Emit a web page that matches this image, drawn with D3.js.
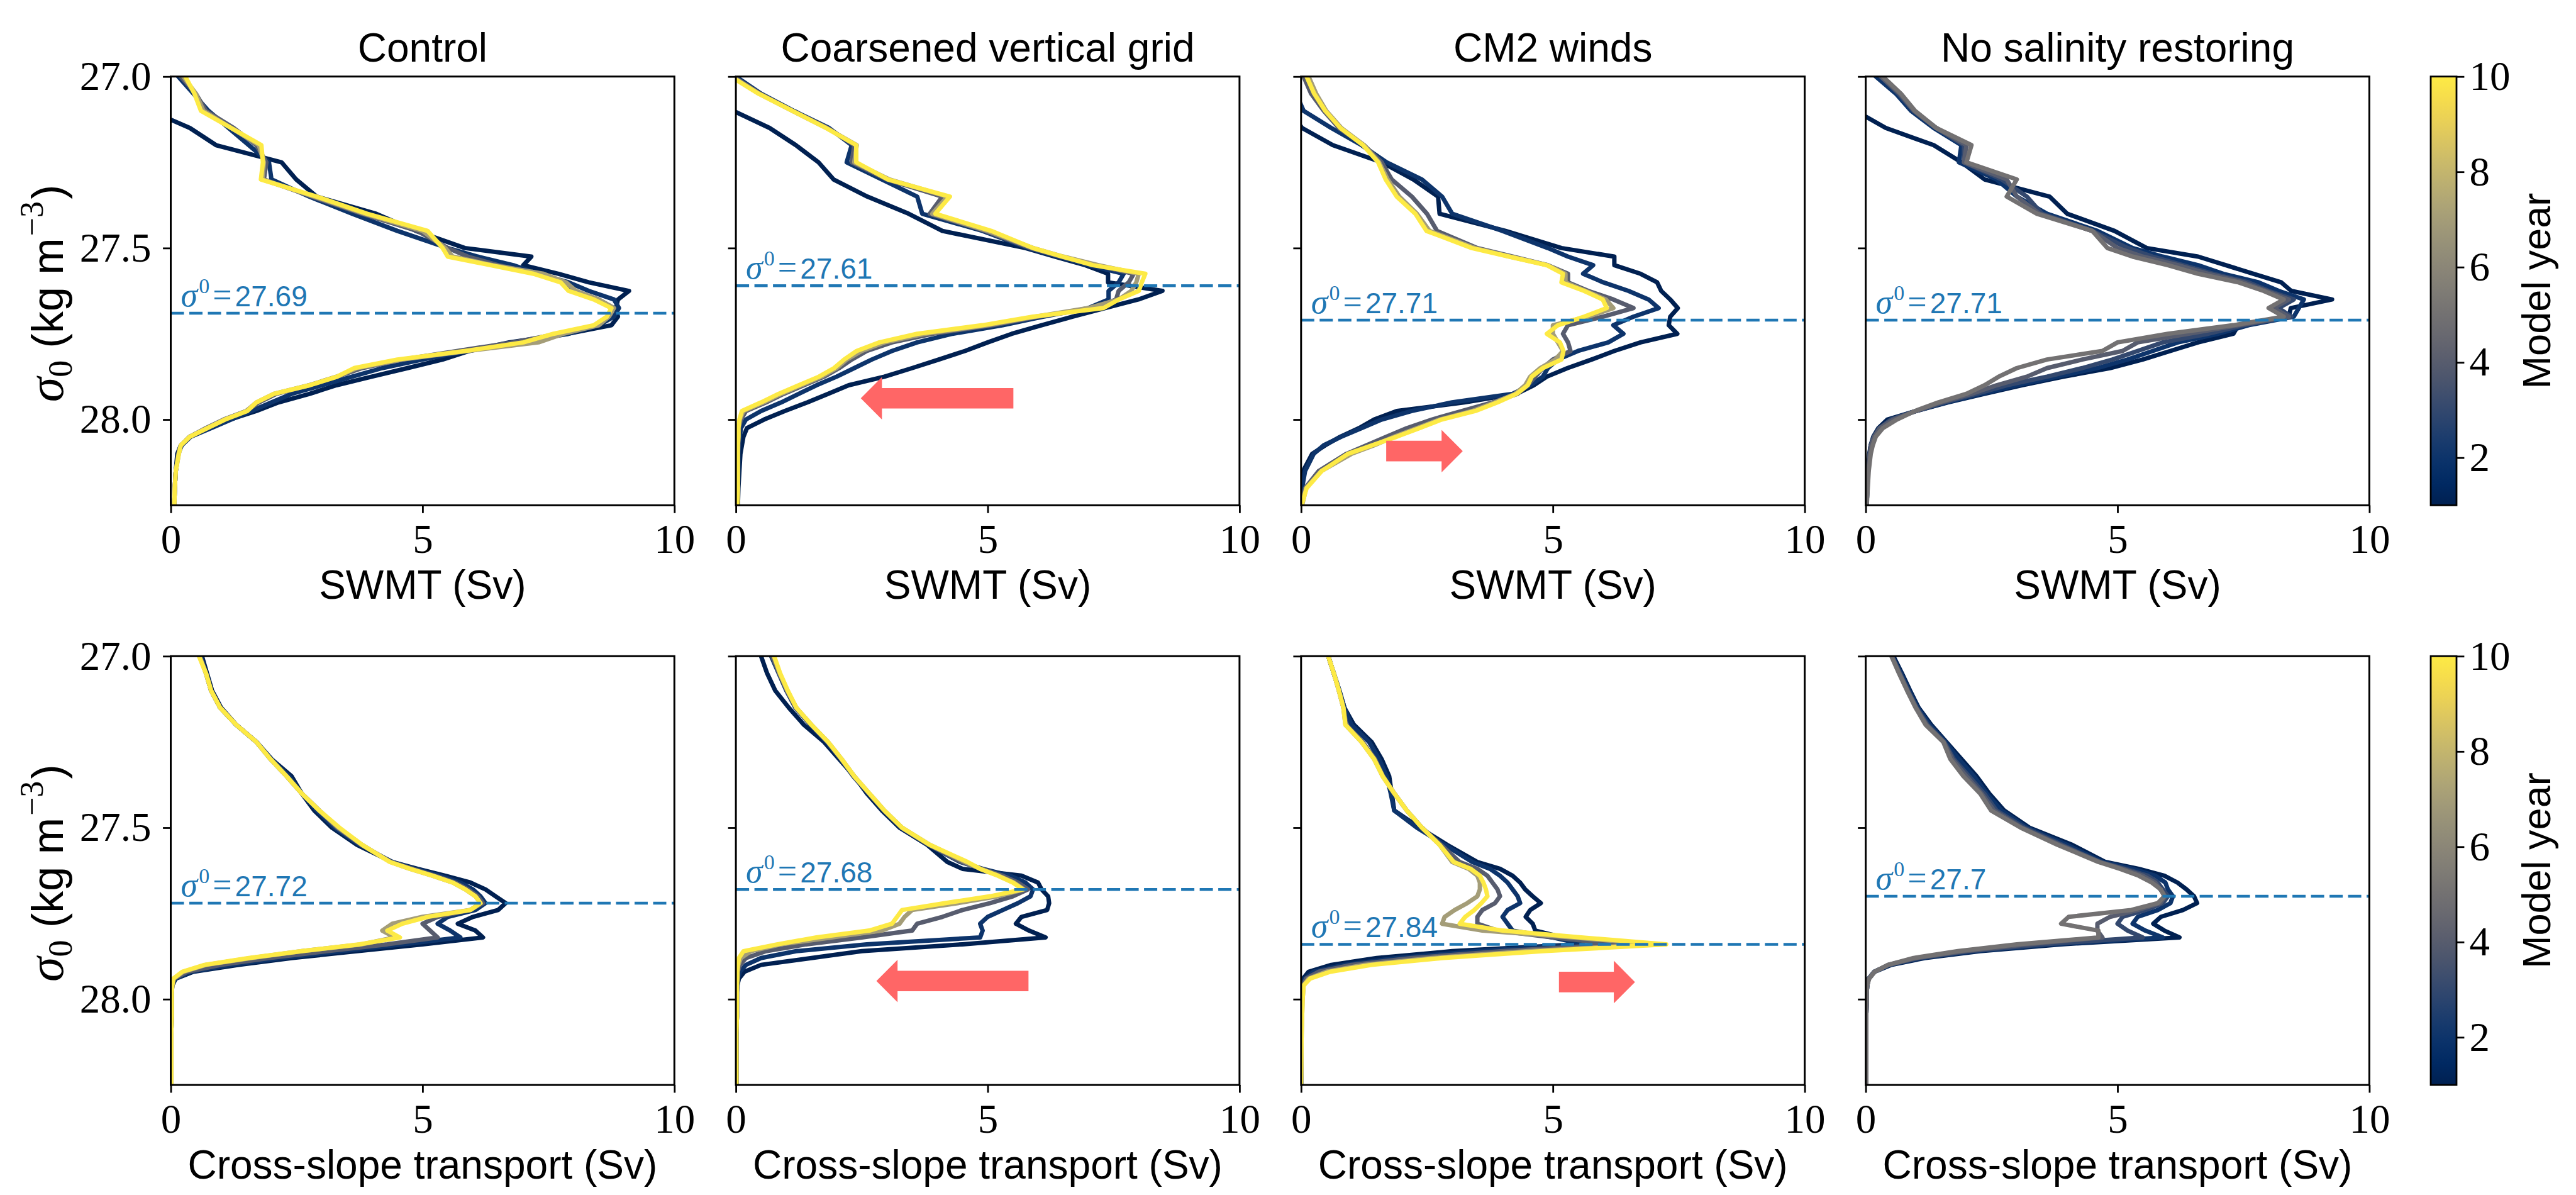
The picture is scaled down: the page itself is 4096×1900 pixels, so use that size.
<!DOCTYPE html>
<html>
<head>
<meta charset="utf-8">
<script src="https://cdn.jsdelivr.net/npm/d3@7"></script>
<style>
  body { margin: 0; background: #fff; }
</style>
</head>
<body>
<script>
// ---------- data ----------
var panelTitles = ["Control", "Coarsened vertical grid", "CM2 winds", "No salinity restoring"];
var rowLabels = ["SWMT (Sv)", "Cross-slope transport (Sv)"];

var sigmaTop = [27.0, 27.05, 27.1, 27.15, 27.2, 27.25, 27.3, 27.35, 27.4, 27.45, 27.5, 27.525, 27.55, 27.575, 27.6, 27.625, 27.65, 27.675, 27.7, 27.725, 27.75, 27.775, 27.8, 27.825, 27.85, 27.875, 27.9, 27.925, 27.95, 27.975, 28.0, 28.025, 28.05, 28.075, 28.1, 28.15, 28.2, 28.25];
var sigmaBot = [27.0, 27.05, 27.1, 27.15, 27.2, 27.25, 27.3, 27.35, 27.4, 27.45, 27.5, 27.55, 27.6, 27.62, 27.64, 27.66, 27.68, 27.7, 27.72, 27.74, 27.76, 27.78, 27.8, 27.82, 27.84, 27.86, 27.88, 27.9, 27.92, 27.94, 27.96, 27.98, 28.0, 28.05, 28.1, 28.25];

var yearsMain = [1, 2, 4, 7, 10];
var yearsNoSal = [1, 2, 3, 4, 5];

// SWMT, one array per model year (same order as the years arrays)
var swmtControl = [
  [-1.5, -1.0, -0.4, 0.38, 0.9, 2.2, 2.49, 2.9, 4.08, 4.87, 5.84, 7.16, 7.0, 7.7, 8.3, 9.1, 8.88, 8.84, 8.88, 8.75, 7.87, 6.72, 5.93, 5.4, 4.7, 3.99, 3.29, 2.76, 2.14, 1.7, 1.17, 0.73, 0.38, 0.2, 0.13, 0.1, 0.08, 0.07],
  [0.15, 0.45, 0.75, 1.15, 1.55, 1.95, 2.0, 2.75, 3.6, 4.5, 5.5, 6.1, 6.8, 7.3, 7.9, 8.3, 8.8, 8.9, 8.8, 8.5, 7.9, 6.9, 5.9, 5.0, 4.2, 3.6, 3.0, 2.4, 2.0, 1.6, 1.2, 0.8, 0.4, 0.22, 0.15, 0.1, 0.08, 0.07],
  [0.2, 0.5, 0.7, 1.25, 1.7, 1.9, 1.85, 2.8, 3.8, 4.9, 5.5, 5.9, 6.5, 7.3, 7.8, 8.0, 8.5, 8.8, 8.7, 8.45, 7.7, 6.8, 5.7, 4.6, 3.8, 3.3, 2.75, 2.1, 1.75, 1.5, 1.05, 0.7, 0.38, 0.2, 0.15, 0.1, 0.08, 0.07],
  [0.25, 0.5, 0.65, 1.2, 1.75, 1.85, 1.82, 2.85, 3.85, 5.0, 5.45, 5.6, 6.4, 7.4, 7.85, 8.05, 8.5, 8.8, 8.7, 8.5, 7.8, 7.3, 5.9, 4.6, 3.7, 3.3, 2.75, 2.05, 1.7, 1.5, 1.06, 0.72, 0.38, 0.2, 0.16, 0.1, 0.08, 0.07],
  [0.29, 0.47, 0.6, 1.2, 1.8, 1.83, 1.79, 2.9, 3.9, 5.1, 5.4, 5.5, 6.35, 7.2, 7.74, 7.9, 8.4, 8.75, 8.66, 8.4, 7.6, 7.0, 5.85, 4.5, 3.64, 3.3, 2.76, 2.05, 1.7, 1.52, 1.08, 0.73, 0.38, 0.2, 0.16, 0.1, 0.08, 0.07]
];
var swmtCoarse = [
  [-1.0, -0.5, -0.05, 0.67, 1.19, 1.64, 1.94, 2.61, 3.43, 4.1, 5.75, 6.34, 6.94, 7.39, 7.39, 8.47, 7.99, 7.33, 6.69, 6.07, 5.48, 5.0, 4.55, 4.03, 3.5, 2.95, 2.24, 1.83, 1.42, 0.97, 0.56, 0.22, 0.15, 0.12, 0.09, 0.07, 0.05, 0.04],
  [0.0, 0.5, 1.15, 1.85, 2.3, 2.2, 2.9, 3.6, 3.7, 4.9, 5.8, 6.4, 7.0, 7.7, 7.6, 7.4, 7.4, 7.0, 6.1, 5.3, 4.3, 3.6, 3.1, 2.7, 2.35, 2.0, 1.6, 1.25, 0.9, 0.5, 0.2, 0.1, 0.08, 0.06, 0.05, 0.05, 0.04, 0.04],
  [-0.05, 0.48, 1.13, 1.82, 2.35, 2.3, 3.0, 4.1, 3.85, 4.95, 5.85, 6.45, 7.15, 7.9, 7.8, 7.6, 7.55, 7.1, 6.0, 5.1, 3.9, 3.1, 2.6, 2.3, 2.05, 1.75, 1.35, 0.95, 0.6, 0.2, 0.1, 0.06, 0.05, 0.05, 0.04, 0.04, 0.04, 0.03],
  [-0.08, 0.46, 1.12, 1.8, 2.4, 2.35, 3.05, 4.2, 3.9, 5.0, 5.9, 6.5, 7.2, 8.0, 7.95, 7.85, 7.6, 7.0, 5.95, 5.0, 3.75, 2.95, 2.5, 2.2, 2.0, 1.7, 1.3, 0.9, 0.55, 0.15, 0.08, 0.05, 0.05, 0.04, 0.04, 0.04, 0.04, 0.03],
  [-0.1, 0.45, 1.12, 1.79, 2.39, 2.39, 3.02, 4.25, 3.96, 5.07, 5.9, 6.49, 7.09, 8.13, 8.06, 8.0, 7.6, 7.3, 5.9, 4.9, 3.6, 2.85, 2.4, 2.15, 1.95, 1.65, 1.25, 0.85, 0.5, 0.12, 0.07, 0.05, 0.05, 0.04, 0.04, 0.04, 0.04, 0.03]
];
var swmtCM2 = [
  [-0.8, -0.5, -0.25, 0.02, 0.63, 1.6, 2.23, 2.72, 2.75, 4.06, 5.17, 6.22, 6.22, 6.74, 7.07, 7.15, 7.33, 7.48, 7.33, 7.3, 7.47, 6.74, 6.22, 5.77, 5.29, 4.88, 4.62, 4.28, 3.24, 1.9, 1.45, 1.15, 0.78, 0.48, 0.22, 0.04, 0.01, 0.0],
  [-0.3, -0.1, 0.05, 0.6, 1.2, 1.7, 2.4, 2.8, 3.0, 4.0, 4.9, 5.3, 5.8, 5.6, 6.0, 6.5, 6.9, 7.1, 6.6, 6.2, 6.4, 6.1, 5.5, 5.1, 4.9, 4.8, 4.55, 4.2, 3.0, 2.2, 1.6, 1.2, 0.8, 0.45, 0.25, 0.08, 0.02, 0.0],
  [0.05, 0.2, 0.45, 0.75, 1.25, 1.6, 1.8, 2.2, 2.5, 2.7, 3.5, 4.2, 4.9, 5.3, 5.3, 5.7, 6.2, 6.6, 6.0, 5.3, 5.2, 5.3, 5.35, 5.0, 4.8, 4.65, 4.5, 4.3, 3.8, 3.2, 2.6, 2.1, 1.7, 1.3, 0.9, 0.35, 0.08, 0.01],
  [0.15, 0.3, 0.5, 0.8, 1.25, 1.55, 1.72, 1.95, 2.3, 2.55, 3.45, 4.15, 4.9, 5.25, 5.25, 5.65, 6.05, 6.2, 5.7, 5.0, 5.0, 5.1, 5.2, 5.05, 4.75, 4.55, 4.45, 4.25, 3.85, 3.4, 2.75, 2.3, 1.85, 1.45, 1.0, 0.4, 0.1, 0.02],
  [0.11, 0.26, 0.48, 0.78, 1.23, 1.53, 1.68, 1.9, 2.27, 2.49, 3.39, 4.13, 4.88, 5.2, 5.17, 5.62, 5.99, 6.07, 5.62, 5.1, 4.88, 5.14, 5.21, 5.17, 4.8, 4.58, 4.5, 4.28, 3.9, 3.46, 2.79, 2.35, 1.9, 1.41, 0.93, 0.41, 0.11, 0.01]
];
var swmtNoSal = [
  [-0.8, -0.5, -0.2, 0.4, 1.35, 1.9, 2.36, 3.65, 4.0, 4.94, 5.58, 6.6, 7.15, 7.7, 8.25, 8.45, 9.26, 8.44, 8.4, 7.4, 7.3, 6.6, 6.05, 5.5, 4.85, 3.93, 3.1, 2.36, 1.63, 1.0, 0.43, 0.25, 0.15, 0.1, 0.07, 0.05, 0.03, 0.02],
  [0.2, 0.6, 0.9, 1.35, 1.9, 1.85, 2.6, 3.0, 3.6, 4.6, 5.3, 5.9, 6.6, 7.1, 7.8, 8.2, 8.7, 8.6, 8.5, 7.6, 7.0, 6.2, 5.7, 5.2, 4.6, 3.8, 3.0, 2.3, 1.6, 1.0, 0.5, 0.28, 0.16, 0.1, 0.08, 0.05, 0.03, 0.02],
  [0.3, 0.65, 0.95, 1.4, 1.95, 1.95, 2.7, 3.2, 3.5, 4.5, 5.2, 5.7, 6.3, 6.9, 7.6, 8.0, 8.5, 8.2, 8.45, 7.5, 6.8, 5.9, 5.4, 4.9, 4.3, 3.6, 2.8, 2.2, 1.55, 1.0, 0.5, 0.27, 0.16, 0.1, 0.08, 0.05, 0.03, 0.02],
  [0.3, 0.68, 0.96, 1.4, 2.0, 1.95, 2.8, 3.0, 3.45, 4.5, 5.0, 5.5, 6.2, 6.8, 7.5, 7.95, 8.4, 8.1, 8.4, 7.4, 6.4, 5.4, 5.1, 4.3, 3.6, 3.2, 2.6, 2.1, 1.5, 1.0, 0.55, 0.28, 0.17, 0.11, 0.08, 0.05, 0.03, 0.02],
  [0.34, 0.7, 0.98, 1.4, 2.1, 2.0, 3.0, 2.8, 3.4, 4.5, 4.8, 5.3, 6.0, 6.6, 7.4, 7.9, 8.3, 8.0, 8.3, 7.3, 6.0, 5.0, 4.7, 3.6, 3.0, 2.64, 2.36, 2.0, 1.44, 0.98, 0.62, 0.34, 0.2, 0.14, 0.1, 0.06, 0.04, 0.02]
];

// cross-slope transport
var xsControl = [
  [0.62, 0.72, 0.82, 1.0, 1.3, 1.7, 2.0, 2.4, 2.6, 2.85, 3.2, 3.7, 4.4, 4.9, 5.45, 5.95, 6.25, 6.45, 6.65, 6.5, 6.0, 5.7, 6.05, 6.2, 5.0, 3.7, 2.4, 1.35, 0.45, 0.1, 0.03, 0.02, 0.02, 0.02, 0.01, 0.01],
  [0.6, 0.7, 0.8, 0.98, 1.3, 1.7, 2.0, 2.35, 2.6, 2.9, 3.25, 3.75, 4.4, 4.85, 5.35, 5.75, 6.0, 6.15, 6.25, 6.05, 5.5, 5.3, 5.55, 5.75, 4.6, 3.4, 2.2, 1.2, 0.4, 0.09, 0.03, 0.02, 0.02, 0.02, 0.01, 0.01],
  [0.58, 0.7, 0.8, 0.98, 1.3, 1.7, 1.98, 2.3, 2.6, 2.95, 3.3, 3.78, 4.38, 4.8, 5.25, 5.65, 5.9, 6.1, 6.2, 5.95, 5.3, 5.0, 5.15, 5.3, 4.3, 3.1, 1.95, 1.0, 0.33, 0.07, 0.03, 0.02, 0.02, 0.02, 0.01, 0.01],
  [0.57, 0.7, 0.8, 0.98, 1.3, 1.7, 1.98, 2.3, 2.6, 2.95, 3.33, 3.8, 4.36, 4.75, 5.2, 5.6, 5.85, 6.05, 6.15, 5.95, 5.0, 4.4, 4.2, 4.45, 3.8, 2.6, 1.6, 0.7, 0.25, 0.06, 0.03, 0.02, 0.02, 0.02, 0.01, 0.01],
  [0.56, 0.7, 0.8, 0.98, 1.3, 1.7, 1.98, 2.3, 2.6, 2.95, 3.35, 3.8, 4.35, 4.75, 5.2, 5.6, 5.85, 6.05, 6.15, 5.95, 5.1, 4.6, 4.3, 4.55, 3.75, 2.6, 1.55, 0.67, 0.23, 0.05, 0.03, 0.02, 0.02, 0.02, 0.01, 0.01]
];
var xsCoarse = [
  [0.5, 0.62, 0.78, 1.05, 1.35, 1.75, 2.05, 2.35, 2.6, 2.9, 3.25, 3.8, 4.2, 4.5, 5.67, 6.0, 6.07, 6.2, 6.22, 6.18, 5.67, 5.56, 5.82, 6.15, 4.5, 2.5, 1.5, 0.5, 0.17, 0.06, 0.03, 0.02, 0.02, 0.02, 0.01, 0.01],
  [0.7, 0.85, 1.0, 1.18, 1.48, 1.8, 2.08, 2.33, 2.63, 2.93, 3.28, 3.82, 4.45, 4.9, 5.45, 5.75, 5.9, 5.85, 5.6, 5.3, 5.0, 4.85, 4.9, 4.85, 2.6, 1.2, 0.5, 0.2, 0.08, 0.04, 0.03, 0.02, 0.02, 0.02, 0.01, 0.01],
  [0.72, 0.86, 1.01, 1.19, 1.49, 1.82, 2.09, 2.34, 2.64, 2.94, 3.29, 3.83, 4.48, 4.88, 5.3, 5.6, 5.8, 5.5, 5.05, 4.5, 4.1, 3.6, 3.5, 2.5, 1.4, 0.6, 0.2, 0.08, 0.04, 0.03, 0.02, 0.02, 0.02, 0.02, 0.01, 0.01],
  [0.75, 0.87, 1.02, 1.2, 1.5, 1.83, 2.1, 2.35, 2.65, 2.95, 3.3, 3.85, 4.55, 4.85, 5.22, 5.52, 5.72, 5.2, 4.4, 3.5, 3.35, 3.25, 2.9, 1.9, 0.9, 0.3, 0.1, 0.05, 0.03, 0.03, 0.02, 0.02, 0.02, 0.02, 0.01, 0.01],
  [0.76, 0.88, 1.03, 1.2, 1.5, 1.83, 2.1, 2.35, 2.65, 2.95, 3.3, 3.85, 4.6, 4.85, 5.2, 5.5, 5.7, 5.05, 4.15, 3.3, 3.2, 3.1, 2.65, 1.6, 0.83, 0.15, 0.06, 0.04, 0.03, 0.03, 0.02, 0.02, 0.02, 0.02, 0.01, 0.01]
];
var xsCM2 = [
  [0.54, 0.65, 0.76, 0.86, 1.05, 1.4, 1.6, 1.75, 1.8, 1.85, 2.35, 2.9, 3.5, 3.95, 4.2, 4.35, 4.45, 4.6, 4.76, 4.55, 4.46, 4.6, 4.65, 5.2, 5.5, 3.0, 1.5, 0.6, 0.15, 0.04, 0.02, 0.02, 0.01, 0.01, 0.0, 0.0],
  [0.54, 0.65, 0.76, 0.86, 1.0, 1.35, 1.55, 1.7, 1.78, 1.85, 2.3, 2.85, 3.4, 3.75, 3.95, 4.1, 4.2, 4.3, 4.35, 4.1, 4.0, 4.1, 4.2, 5.0, 5.6, 3.5, 1.9, 0.85, 0.25, 0.07, 0.03, 0.02, 0.01, 0.01, 0.0, 0.0],
  [0.54, 0.65, 0.75, 0.84, 0.9, 1.22, 1.47, 1.63, 1.85, 2.1, 2.4, 2.78, 3.15, 3.5, 3.7, 3.8, 3.9, 3.95, 3.85, 3.6, 3.5, 3.5, 3.9, 5.0, 6.3, 4.0, 2.2, 1.0, 0.35, 0.1, 0.04, 0.03, 0.02, 0.01, 0.01, 0.0],
  [0.54, 0.65, 0.75, 0.84, 0.88, 1.2, 1.45, 1.62, 1.85, 2.1, 2.4, 2.75, 3.0, 3.33, 3.5, 3.55, 3.55, 3.5, 3.3, 3.05, 2.85, 2.8, 3.6, 5.4, 7.0, 4.5, 2.6, 1.25, 0.5, 0.15, 0.05, 0.04, 0.03, 0.02, 0.01, 0.0],
  [0.54, 0.65, 0.75, 0.84, 0.88, 1.2, 1.45, 1.62, 1.85, 2.1, 2.4, 2.75, 3.03, 3.37, 3.55, 3.62, 3.67, 3.7, 3.58, 3.44, 3.26, 3.15, 4.0, 5.56, 7.25, 4.8, 2.8, 1.4, 0.58, 0.18, 0.05, 0.04, 0.03, 0.02, 0.01, 0.0]
];
var xsNoSal = [
  [0.55, 0.72, 0.88, 1.05, 1.3, 1.6, 1.9, 2.2, 2.45, 2.75, 3.25, 4.1, 4.76, 5.42, 5.93, 6.19, 6.37, 6.52, 6.58, 6.3, 5.86, 5.71, 5.93, 6.23, 3.88, 2.27, 1.17, 0.51, 0.18, 0.06, 0.03, 0.02, 0.02, 0.01, 0.01, 0.01],
  [0.53, 0.7, 0.86, 1.03, 1.27, 1.58, 1.85, 2.15, 2.4, 2.7, 3.2, 4.0, 4.7, 5.3, 5.75, 5.95, 6.0, 6.1, 6.05, 5.8, 5.4, 5.3, 5.55, 5.9, 3.7, 2.15, 1.1, 0.48, 0.17, 0.06, 0.03, 0.02, 0.02, 0.01, 0.01, 0.01],
  [0.52, 0.68, 0.84, 1.01, 1.23, 1.56, 1.75, 2.05, 2.35, 2.6, 3.15, 3.9, 4.65, 5.15, 5.6, 5.8, 5.9, 6.0, 5.9, 5.55, 5.1, 5.0, 5.2, 5.5, 3.5, 2.05, 1.05, 0.46, 0.17, 0.06, 0.03, 0.02, 0.02, 0.01, 0.01, 0.01],
  [0.52, 0.67, 0.83, 1.0, 1.21, 1.55, 1.72, 2.0, 2.3, 2.55, 3.1, 3.85, 4.65, 5.1, 5.5, 5.75, 5.85, 5.95, 5.85, 5.4, 4.85, 4.6, 4.6, 4.7, 3.2, 1.95, 1.0, 0.45, 0.17, 0.06, 0.03, 0.02, 0.02, 0.01, 0.01, 0.01],
  [0.51, 0.66, 0.82, 0.99, 1.19, 1.54, 1.68, 1.94, 2.27, 2.49, 3.08, 3.81, 4.62, 5.05, 5.42, 5.68, 5.86, 5.93, 5.8, 5.27, 4.03, 3.88, 4.62, 4.62, 3.0, 1.83, 0.95, 0.44, 0.18, 0.07, 0.03, 0.02, 0.02, 0.01, 0.01, 0.01]
];

// sigma of the peak (dashed line) for each panel
var peakTop = [27.69, 27.61, 27.71, 27.71];
var peakBot = [27.72, 27.68, 27.84, 27.7];
var peakTopLabel = ["27.69", "27.61", "27.71", "27.71"];
var peakBotLabel = ["27.72", "27.68", "27.84", "27.7"];

// red arrows: tail / tip in Sv, at sigma level
var arrowTailTop = [null, 5.51, 1.69, null];
var arrowTipTop = [null, 2.48, 3.21, null];
var arrowSigmaTop = [null, 27.938, 28.092, null];
var arrowTailBot = [null, 5.81, 5.12, null];
var arrowTipBot = [null, 2.79, 6.63, null];
var arrowSigmaBot = [null, 27.947, 27.95, null];

var xTicks = [0, 5, 10];
var yTicks = [27.0, 27.5, 28.0];
var cbTicks = [2, 4, 6, 8, 10];

// ---------- layout ----------
var W = 4096, H = 1900;
var SANS = "'Liberation Sans', Arial, sans-serif";
var SERIF = "'Liberation Serif', 'Times New Roman', serif";
var panelX = [271.5, 1170.1, 2068.8, 2966.6];
var rowY = [121.7, 1043.3];
var pw = 800.8, ph = 681.7;
var cbX = 3865, cbW = 41;
var C0 = "#1f77b4";

var svg = d3.select("body").append("svg")
    .attr("width", W)
    .attr("height", H)
    .style("background", "#fff");

var x = d3.scaleLinear().domain([0, 10]).range([0, pw]);
var y = d3.scaleLinear().domain([27, 28.25]).range([0, ph]);
var yearColor = function(yr) { return d3.interpolateCividis((yr - 1) / 9); };

var rows = [
  { levels: sigmaTop, sets: [swmtControl, swmtCoarse, swmtCM2, swmtNoSal], peaks: peakTop, peakLabels: peakTopLabel,
    tail: arrowTailTop, tip: arrowTipTop, asig: arrowSigmaTop },
  { levels: sigmaBot, sets: [xsControl, xsCoarse, xsCM2, xsNoSal], peaks: peakBot, peakLabels: peakBotLabel,
    tail: arrowTailBot, tip: arrowTipBot, asig: arrowSigmaBot }
];
var yearSets = [yearsMain, yearsMain, yearsMain, yearsNoSal];

var defs = svg.append("defs");

var line = d3.line()
    .defined(function(d) { return d.v != null; })
    .x(function(d) { return x(d.v); })
    .y(function(d) { return y(d.s); });

rows.forEach(function(row, r) {
  for (var c = 0; c < 4; c++) {
    var g = svg.append("g").attr("transform", "translate(" + panelX[c] + "," + rowY[r] + ")");
    var cid = "clip" + r + "_" + c;
    defs.append("clipPath").attr("id", cid)
      .append("rect").attr("x", 0).attr("y", 0).attr("width", pw).attr("height", ph);

    var plot = g.append("g").attr("clip-path", "url(#" + cid + ")");

    // one line per model year, oldest first
    row.sets[c].forEach(function(vals, i) {
      var pts = row.levels.map(function(s, k) { return { s: s, v: vals[k] }; });
      plot.append("path")
        .datum(pts)
        .attr("d", line)
        .attr("fill", "none")
        .attr("stroke", yearColor(yearSets[c][i]))
        .attr("stroke-width", 7)
        .attr("stroke-linejoin", "round")
        .attr("stroke-linecap", "square");
    });

    // dashed peak line
    var pk = row.peaks[c];
    plot.append("line")
      .attr("x1", 0).attr("x2", pw)
      .attr("y1", y(pk)).attr("y2", y(pk))
      .attr("stroke", C0)
      .attr("stroke-width", 4.5)
      .attr("stroke-dasharray", "21,8.5");

    var lab = g.append("text")
      .attr("x", 16)
      .attr("y", y(pk) - 11)
      .attr("fill", C0);
    lab.append("tspan").attr("font-family", SERIF).attr("font-style", "italic").attr("font-size", 54).text("σ");
    lab.append("tspan").attr("font-family", SERIF).attr("font-size", 34).attr("dy", -21).attr("dx", 2).text("0");
    lab.append("tspan").attr("font-family", SERIF).attr("font-size", 54).attr("dy", 21).attr("dx", 5).text("=");
    lab.append("tspan").attr("font-family", SANS).attr("font-size", 46).attr("dx", 5).text(row.peakLabels[c]);

    // red arrow
    if (row.tail[c] != null) {
      var t0 = row.tail[c], t1 = row.tip[c], sg = row.asig[c];
      var dir = t1 > t0 ? 1 : -1;
      var hl = 0.42, sw = 0.03, hw = 0.062;
      var base = t1 - dir * hl;
      var poly = [[t0, sg - sw], [base, sg - sw], [base, sg - hw], [t1, sg], [base, sg + hw], [base, sg + sw], [t0, sg + sw]];
      plot.append("polygon")
        .attr("points", poly.map(function(p) { return x(p[0]) + "," + y(p[1]); }).join(" "))
        .attr("fill", "#ff6666");
    }

    // frame
    g.append("rect")
      .attr("width", pw).attr("height", ph)
      .attr("fill", "none").attr("stroke", "#000").attr("stroke-width", 3);

    // x axis
    var ax = g.append("g")
      .attr("transform", "translate(0," + ph + ")")
      .call(d3.axisBottom(x).tickValues(xTicks).tickSize(12.4).tickPadding(17).tickFormat(d3.format("d")));
    ax.select(".domain").remove();
    ax.selectAll("line").attr("stroke-width", 2.8);
    ax.selectAll("text").attr("font-size", 65).attr("font-family", SERIF).attr("fill", "#000");

    // y axis
    var ay = g.append("g")
      .call(d3.axisLeft(y).tickValues(yTicks).tickSize(12.4).tickPadding(18.6)
        .tickFormat(c === 0 ? d3.format(".1f") : function() { return ""; }));
    ay.select(".domain").remove();
    ay.selectAll("line").attr("stroke-width", 2.8);
    ay.selectAll("text").attr("font-size", 65).attr("font-family", SERIF).attr("fill", "#000");

    // x label
    g.append("text")
      .attr("x", pw / 2).attr("y", ph + 149)
      .attr("text-anchor", "middle")
      .attr("font-family", SANS).attr("font-size", 64)
      .text(rowLabels[r]);

    if (r === 0) {
      g.append("text")
        .attr("x", pw / 2).attr("y", -24)
        .attr("text-anchor", "middle")
        .attr("font-family", SANS).attr("font-size", 64)
        .text(panelTitles[c]);
    }
  }

  // y label
  var yl = svg.append("text")
    .attr("transform", "translate(100," + (rowY[r] + ph / 2 + 4) + ") rotate(-90)")
    .attr("text-anchor", "middle")
    .attr("fill", "#000");
  yl.append("tspan").attr("font-family", SERIF).attr("font-style", "italic").attr("font-size", 80).text("σ");
  yl.append("tspan").attr("font-family", SERIF).attr("font-size", 54).attr("dy", 14).text("0");
  yl.append("tspan").attr("font-family", SANS).attr("font-size", 70).attr("dy", -14).text(" (kg m");
  yl.append("tspan").attr("font-family", SERIF).attr("font-size", 52).attr("dy", -32).attr("dx", 3).text("−3");
  yl.append("tspan").attr("font-family", SANS).attr("font-size", 70).attr("dy", 32).attr("dx", 3).text(")");

  // colorbar
  var gid = "cbgrad";
  if (r === 0) {
    var grad = defs.append("linearGradient").attr("id", gid)
      .attr("x1", 0).attr("y1", 1).attr("x2", 0).attr("y2", 0);
    d3.range(0, 1.0001, 0.05).forEach(function(t) {
      grad.append("stop").attr("offset", t).attr("stop-color", d3.interpolateCividis(t));
    });
  }
  var cb = svg.append("g").attr("transform", "translate(" + cbX + "," + rowY[r] + ")");
  cb.append("rect").attr("width", cbW).attr("height", ph).attr("fill", "url(#" + gid + ")")
    .attr("stroke", "#000").attr("stroke-width", 2.8);
  var cbScale = d3.scaleLinear().domain([1, 10]).range([ph, 0]);
  var cba = cb.append("g").attr("transform", "translate(" + cbW + ",0)")
    .call(d3.axisRight(cbScale).tickValues(cbTicks).tickSize(12.4).tickPadding(8));
  cba.select(".domain").remove();
  cba.selectAll("line").attr("stroke-width", 2.8);
  cba.selectAll("text").attr("font-size", 65).attr("font-family", SERIF).attr("fill", "#000");

  svg.append("text")
    .attr("transform", "translate(4055," + (rowY[r] + ph / 2) + ") rotate(-90)")
    .attr("text-anchor", "middle")
    .attr("font-family", SANS).attr("font-size", 63)
    .text("Model year");
});
</script>
</body>
</html>
